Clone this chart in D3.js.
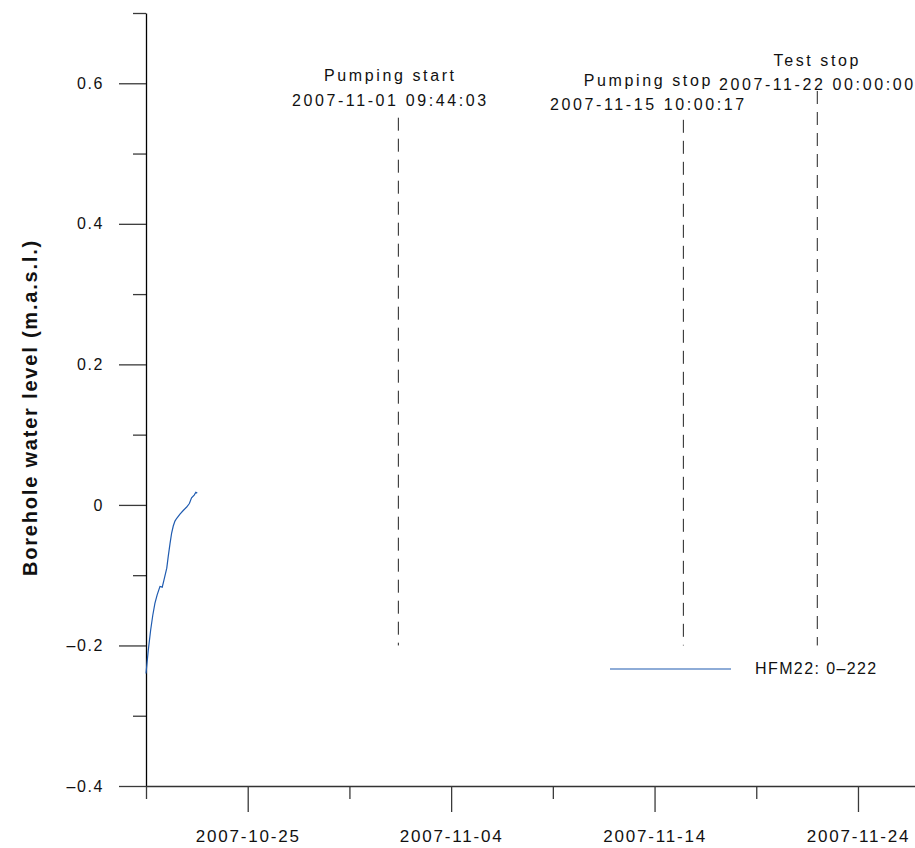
<!DOCTYPE html>
<html>
<head>
<meta charset="utf-8">
<script src="https://cdn.jsdelivr.net/npm/d3@7"></script>
<style>
  html, body { margin: 0; padding: 0; background: #fff; }
  svg { display: block; }
  text { font-family: "Liberation Sans", Arial, sans-serif; fill: #111; }
</style>
</head>
<body>
<svg id="chart" width="915" height="848"></svg>
<script>
// ---------- data ----------
const seriesName = "HFM22: 0–222";
const times = [
  "2007-10-20 00:00", "2007-10-20 02:40", "2007-10-20 05:30", "2007-10-20 08:00",
  "2007-10-20 10:30", "2007-10-20 13:10", "2007-10-20 16:30", "2007-10-20 19:10",
  "2007-10-20 21:10", "2007-10-21 00:30", "2007-10-21 02:10", "2007-10-21 04:20",
  "2007-10-21 06:15", "2007-10-21 08:10", "2007-10-21 10:10", "2007-10-21 12:15",
  "2007-10-21 16:05", "2007-10-21 19:55", "2007-10-22 00:00", "2007-10-22 03:10",
  "2007-10-22 05:45", "2007-10-22 08:50", "2007-10-22 10:50", "2007-10-22 12:30"
];
const levels = [
  -0.240, -0.207, -0.178, -0.157,
  -0.140, -0.128, -0.116, -0.117,
  -0.107, -0.090, -0.074, -0.055,
  -0.040, -0.030, -0.023, -0.019,
  -0.013, -0.008, -0.003, 0.002,
  0.010, 0.014, 0.018, 0.017
];

const eventNames = ["Pumping start", "Pumping stop", "Test stop"];
const eventTimes = ["2007-11-01 09:44:03", "2007-11-15 10:00:17", "2007-11-22 00:00:00"];
const eventTops = [0.551, 0.548, 0.589];
const eventBottom = -0.2;

const yMajorTicks = [-0.4, -0.2, 0, 0.2, 0.4, 0.6];
const yMajorLabels = ["–0.4", "–0.2", "0", "0.2", "0.4", "0.6"];
const yMinorTicks = [-0.3, -0.1, 0.1, 0.3, 0.5, 0.7];
const xMajorTicks = ["2007-10-25", "2007-11-04", "2007-11-14", "2007-11-24"];
const xMinorTicks = ["2007-10-20", "2007-10-30", "2007-11-09", "2007-11-19"];
const xDomain = ["2007-10-20", "2007-11-27"];
const yDomain = [-0.4, 0.7];
const yTitle = "Borehole water level (m.a.s.l.)";

// ---------- layout ----------
const parseT = d3.timeParse("%Y-%m-%d %H:%M");
const parseS = d3.timeParse("%Y-%m-%d %H:%M:%S");
const parseD = d3.timeParse("%Y-%m-%d");

const svg = d3.select("#chart");
const x = d3.scaleTime().domain(xDomain.map(parseD)).range([146, 919]);
const y = d3.scaleLinear().domain(yDomain).range([786, 13]);

const labelDx = [-8, -35, 0];          // horizontal offsets of event labels (px)
const labelTitleY = [81, 86, 66];      // baselines of event titles
const labelDateY = [106, 110, 90];     // baselines of event dates

// ---------- axes ----------
const tickColor = "#3a3a3a";

// y axis minor
svg.append("g")
  .attr("transform", "translate(146,0)")
  .call(d3.axisLeft(y).tickValues(yMinorTicks).tickSizeInner(13).tickSizeOuter(0).tickFormat(""))
  .call(g => g.select(".domain").remove())
  .call(g => g.selectAll("line").attr("stroke", tickColor).attr("stroke-width", 1.3));

// y axis major
const yAx = svg.append("g")
  .attr("transform", "translate(146,0)")
  .call(d3.axisLeft(y).tickValues(yMajorTicks).tickSizeInner(27).tickSizeOuter(0).tickPadding(15)
    .tickFormat((d, i) => yMajorLabels[i]));
yAx.select(".domain").attr("stroke", "#000").attr("stroke-width", 1.3);
yAx.selectAll("line").attr("stroke", tickColor).attr("stroke-width", 1.3);
yAx.selectAll("text")
  .attr("font-size", 16).attr("letter-spacing", "1.6px")
  .attr("font-family", "'Liberation Sans', Arial, sans-serif").attr("fill", "#111");

// x axis minor
svg.append("g")
  .attr("transform", "translate(0,786)")
  .call(d3.axisBottom(x).tickValues(xMinorTicks.map(parseD)).tickSizeInner(13).tickSizeOuter(0).tickFormat(""))
  .call(g => g.select(".domain").remove())
  .call(g => g.selectAll("line").attr("stroke", tickColor).attr("stroke-width", 1.3));

// x axis major
const xAx = svg.append("g")
  .attr("transform", "translate(0,786)")
  .call(d3.axisBottom(x).tickValues(xMajorTicks.map(parseD)).tickSizeInner(26).tickSizeOuter(0).tickPadding(18)
    .tickFormat((d, i) => xMajorTicks[i]));
xAx.select(".domain").attr("stroke", "#333").attr("stroke-width", 1.6);
xAx.selectAll("line").attr("stroke", tickColor).attr("stroke-width", 1.3);
xAx.selectAll("text")
  .attr("font-size", 17).attr("letter-spacing", "1.8px")
  .attr("font-family", "'Liberation Sans', Arial, sans-serif").attr("fill", "#111");

// y axis title
svg.append("text")
  .attr("transform", `translate(37,${(y(yDomain[0]) + y(yDomain[1])) / 2 + 8}) rotate(-90)`)
  .attr("text-anchor", "middle")
  .attr("font-size", 20).attr("font-weight", "bold").attr("letter-spacing", "1.8px")
  .text(yTitle);

// ---------- event markers ----------
const events = eventNames.map((n, i) => ({
  name: n, label: eventTimes[i], t: parseS(eventTimes[i]), top: eventTops[i], i
}));

const ev = svg.append("g").selectAll("g").data(events).join("g");
ev.append("line")
  .attr("x1", d => x(d.t)).attr("x2", d => x(d.t))
  .attr("y1", d => y(d.top)).attr("y2", y(eventBottom))
  .attr("stroke", "#222").attr("stroke-width", 1)
  .attr("stroke-dasharray", "13,8");
ev.append("text")
  .attr("x", d => x(d.t) + labelDx[d.i]).attr("y", d => labelTitleY[d.i])
  .attr("text-anchor", "middle").attr("font-size", 16).attr("letter-spacing", "2.6px")
  .text(d => d.name);
ev.append("text")
  .attr("x", d => x(d.t) + labelDx[d.i]).attr("y", d => labelDateY[d.i])
  .attr("text-anchor", "middle").attr("font-size", 16).attr("letter-spacing", "2.6px")
  .text(d => d.label);

// ---------- series ----------
const data = times.map((t, i) => ({ t: parseT(t), v: levels[i] }));
const lineColor = "#1f5bb0";
svg.append("path")
  .datum(data)
  .attr("fill", "none")
  .attr("stroke", lineColor)
  .attr("stroke-width", 1.2)
  .attr("d", d3.line().x(d => x(d.t)).y(d => y(d.v)));

// ---------- legend ----------
svg.append("line")
  .attr("x1", 610).attr("x2", 731).attr("y1", 669).attr("y2", 669)
  .attr("stroke", lineColor).attr("stroke-width", 1.2);
svg.append("text")
  .attr("x", 755).attr("y", 674)
  .attr("font-size", 16).attr("letter-spacing", "1.4px")
  .text(seriesName);
</script>
</body>
</html>
